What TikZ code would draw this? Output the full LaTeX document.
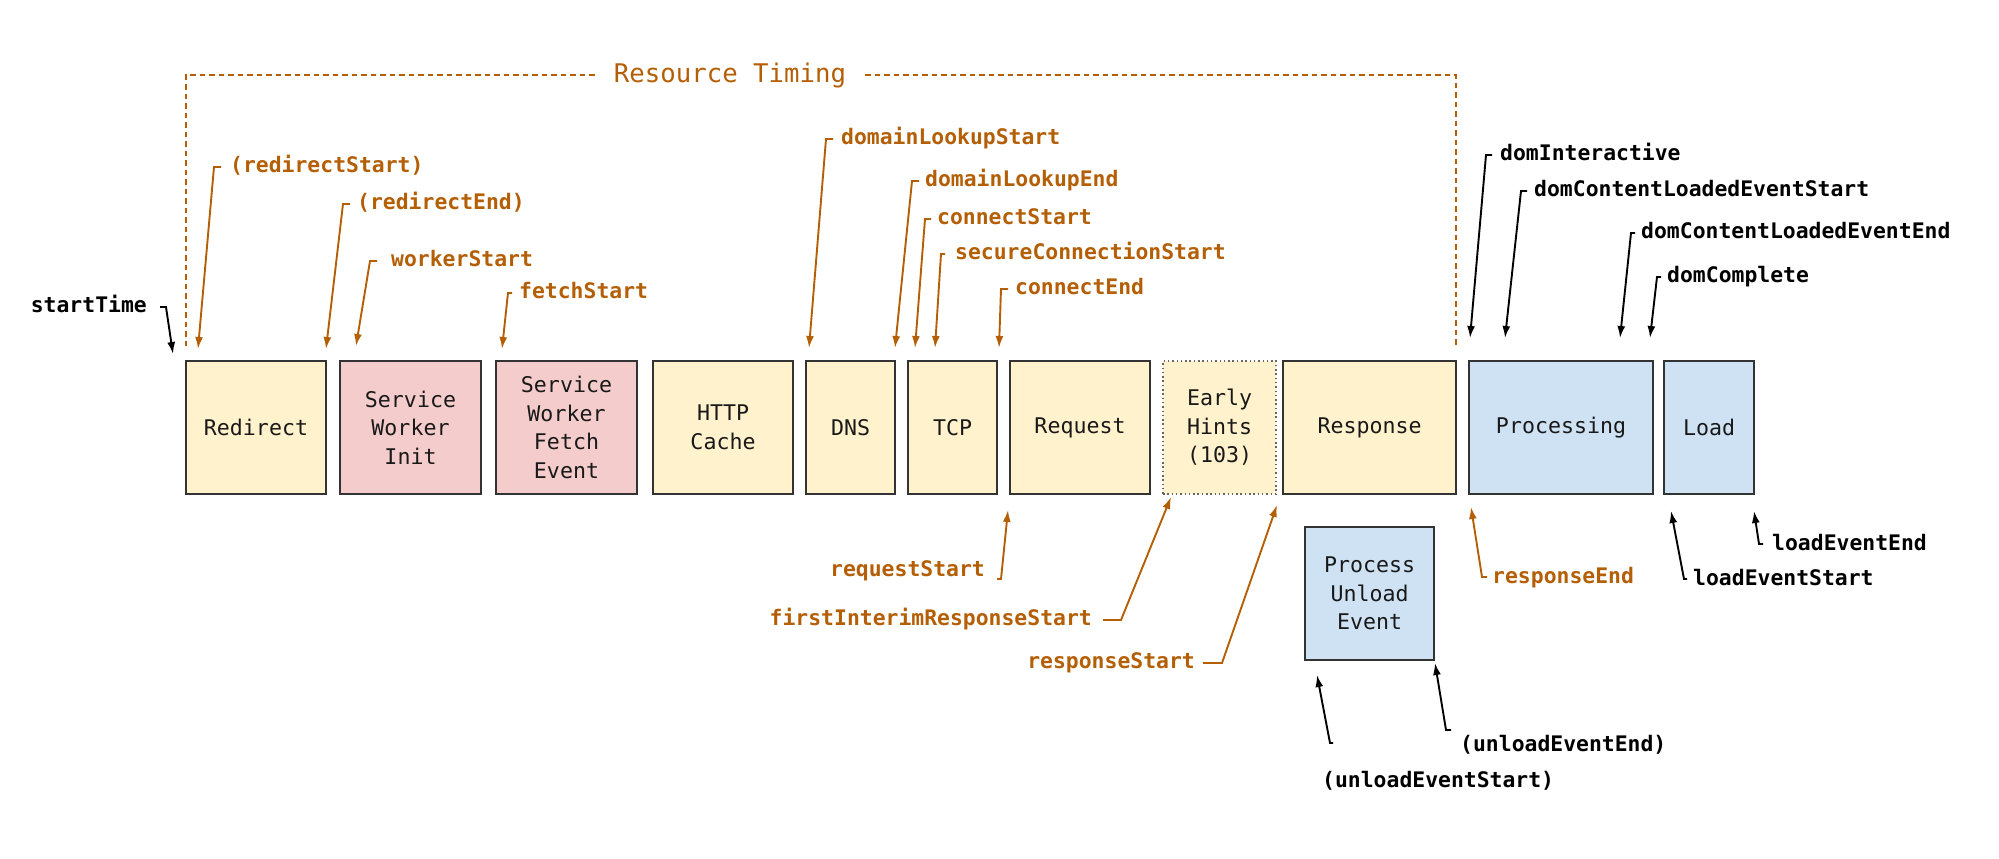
\documentclass[tikz,border=0pt]{standalone}
\usepackage{fontspec}
\setmonofont{DejaVu Sans Mono}
\usepackage{tikz}
\definecolor{orange800}{HTML}{B45F06}
\definecolor{yellow100}{HTML}{FFF2CC}
\definecolor{red100}{HTML}{F4CCCC}
\definecolor{blue100}{HTML}{CFE2F3}
\definecolor{gray800}{HTML}{333333}
\definecolor{gray600}{HTML}{666666}
\usetikzlibrary{arrows.meta}
\tikzstyle{phase}=[rectangle, draw=gray800, line width=2pt, minimum height=133pt, inner sep=0pt, align=center, text=black!90, font=\ttfamily\fontsize{21.6}{28.5}\selectfont]
\tikzstyle{stamp}=[inner sep=0pt, text height=15pt, text depth=5pt, font=\ttfamily\bfseries\fontsize{21.4}{26}\selectfont]
\tikzstyle{rtstamp}=[stamp, text=orange800]
\tikzstyle{navstamp}=[stamp, text=black]
\tikzstyle{rtpointer}=[draw=orange800, line width=1.9pt, -{Latex[length=12pt,width=8pt]}]
\tikzstyle{navpointer}=[draw=black, line width=1.9pt, -{Latex[length=12pt,width=8pt]}]

\begin{document}
\begin{tikzpicture}[x=1pt, y=-1pt]
			\useasboundingbox (0,0) rectangle (1999,859);
			\node[phase, fill=yellow100, minimum width=140pt] (redirect) at (256,427.5) {Redirect};
			\node[phase, fill=red100, minimum width=141pt] (swinit) at (410.5,427.5) {Service\\Worker\\Init};
			\node[phase, fill=red100, minimum width=141pt] (swfetch) at (566.5,427.5) {Service\\Worker\\Fetch\\Event};
			\node[phase, fill=yellow100, minimum width=140pt] (httpcache) at (723,427.5) {HTTP\\Cache};
			\node[phase, fill=yellow100, minimum width=89pt] (dns) at (850.5,427.5) {DNS};
			\node[phase, fill=yellow100, minimum width=89pt] (tcp) at (952.5,427.5) {TCP};
			\node[phase, fill=yellow100, minimum width=140pt] (request) at (1080,427.5) {Request};
			\node[phase, fill=yellow100, minimum width=113pt, draw=gray600, line width=1.5pt, dash pattern=on 1.5pt off 2.8pt] (earlyhints) at (1219.5,427.5) {Early\\Hints\\(103)};
			\node[phase, fill=yellow100, minimum width=173pt] (response) at (1369.5,427.5) {Response};
			\node[phase, fill=blue100, minimum width=184pt] (processing) at (1561,427.5) {Processing};
			\node[phase, fill=blue100, minimum width=90pt] (load) at (1709,427.5) {Load};
			\node[phase, fill=blue100, minimum width=129pt] (unload) at (1369.5,593.5) {Process\\Unload\\Event};

			\node[font=\ttfamily\fontsize{25.7}{30}\selectfont, text=orange800, inner xsep=19pt, inner ysep=0pt] (rt) at (730,75) {Resource Timing};
			\coordinate (rt-left) at (186,348);
			\coordinate (rt-right) at (1456,348);
			\path[draw=orange800, line width=1.8pt, dash pattern=on 5.5pt off 4pt] (rt.west) -| (rt-left) (rt.east) -| (rt-right);

			\node[navstamp, anchor=east] (st) at (147,307) {startTime};
			\node[rtstamp, anchor=west] (rs) at (230,167) {(redirectStart)};
			\node[rtstamp, anchor=west] (re) at (357,204) {(redirectEnd)};
			\node[rtstamp, anchor=west] (ws) at (391,261) {workerStart};
			\node[rtstamp, anchor=west] (fs) at (519,293) {fetchStart};
			\node[rtstamp, anchor=west] (dls) at (841,139) {domainLookupStart};
			\node[rtstamp, anchor=west] (dle) at (925,181) {domainLookupEnd};
			\node[rtstamp, anchor=west] (cs) at (937,219) {connectStart};
			\node[rtstamp, anchor=west] (scs) at (955,254) {secureConnectionStart};
			\node[rtstamp, anchor=west] (ce) at (1015,289) {connectEnd};
			\node[navstamp, anchor=west] (di) at (1500,155) {domInteractive};
			\node[navstamp, anchor=west] (dcls) at (1534,191) {domContentLoadedEventStart};
			\node[navstamp, anchor=west] (dcle) at (1641,233) {domContentLoadedEventEnd};
			\node[navstamp, anchor=west] (dc) at (1667,277) {domComplete};

			\node[rtstamp, anchor=east] (rqs) at (985,571) {requestStart};
			\node[rtstamp, anchor=east] (fir) at (1092,620) {firstInterimResponseStart};
			\node[rtstamp, anchor=east] (rsp) at (1195,663) {responseStart};
			\node[rtstamp, anchor=west] (rse) at (1492,578) {responseEnd};
			\node[navstamp, anchor=west] (les) at (1693,580) {loadEventStart};
			\node[navstamp, anchor=west] (lee) at (1772,545) {loadEventEnd};
			\node[navstamp, anchor=west] (uee) at (1460,746) {(unloadEventEnd)};
			\node[navstamp, anchor=west] (ues) at (1322,782) {(unloadEventStart)};

			\coordinate (st-tip) at (173,354);
			\coordinate (rs-tip) at (198,349);
			\coordinate (re-tip) at (326,349);
			\coordinate (ws-tip) at (356,346);
			\coordinate (fs-tip) at (502,349);
			\coordinate (dls-tip) at (809,348);
			\coordinate (dle-tip) at (895,348);
			\coordinate (cs-tip) at (915,348);
			\coordinate (scs-tip) at (935,348);
			\coordinate (ce-tip) at (999,348);
			\coordinate (di-tip) at (1470,338);
			\coordinate (dcls-tip) at (1505,338);
			\coordinate (dcle-tip) at (1620,338);
			\coordinate (dc-tip) at (1650,338);
			\coordinate (rqs-tip) at (1008,510);
			\coordinate (fir-tip) at (1171,497);
			\coordinate (rsp-tip) at (1277,505);
			\coordinate (rse-tip) at (1471,507);
			\coordinate (les-tip) at (1671,511);
			\coordinate (lee-tip) at (1754,511);
			\coordinate (uee-tip) at (1435,663);
			\coordinate (ues-tip) at (1317,675);

			\draw[navpointer] ([xshift=13pt]st.east) -- ([xshift=19pt]st.east) -- (st-tip);
			\draw[rtpointer] ([xshift=-9pt]rs.west) -- ([xshift=-16pt]rs.west) -- (rs-tip);
			\draw[rtpointer] ([xshift=-7pt]re.west) -- ([xshift=-14pt]re.west) -- (re-tip);
			\draw[rtpointer] ([xshift=-14pt]ws.west) -- ([xshift=-21pt]ws.west) -- (ws-tip);
			\draw[rtpointer] ([xshift=-7pt]fs.west) -- ([xshift=-11pt]fs.west) -- (fs-tip);
			\draw[rtpointer] ([xshift=-8pt]dls.west) -- ([xshift=-15pt]dls.west) -- (dls-tip);
			\draw[rtpointer] ([xshift=-6pt]dle.west) -- ([xshift=-13pt]dle.west) -- (dle-tip);
			\draw[rtpointer] ([xshift=-6pt]cs.west) -- ([xshift=-12pt]cs.west) -- (cs-tip);
			\draw[rtpointer] ([xshift=-10pt]scs.west) -- ([xshift=-14pt]scs.west) -- (scs-tip);
			\draw[rtpointer] ([xshift=-7pt]ce.west) -- ([xshift=-14pt]ce.west) -- (ce-tip);
			\draw[navpointer] ([xshift=-8pt]di.west) -- ([xshift=-14pt]di.west) -- (di-tip);
			\draw[navpointer] ([xshift=-7pt]dcls.west) -- ([xshift=-13pt]dcls.west) -- (dcls-tip);
			\draw[navpointer] ([xshift=-6pt]dcle.west) -- ([xshift=-10pt]dcle.west) -- (dcle-tip);
			\draw[navpointer] ([xshift=-6pt]dc.west) -- ([xshift=-10pt]dc.west) -- (dc-tip);

			\draw[rtpointer] ([shift={(12,8)}]rqs.east) -- ([shift={(16,8)}]rqs.east) -- (rqs-tip);
			\draw[rtpointer] ([xshift=11pt]fir.east) -- ([xshift=29pt]fir.east) -- (fir-tip);
			\draw[rtpointer] ([xshift=8pt]rsp.east) -- ([xshift=27pt]rsp.east) -- (rsp-tip);
			\draw[rtpointer] ([shift={(-5,-1)}]rse.west) -- ([shift={(-10,-1)}]rse.west) -- (rse-tip);
			\draw[navpointer] ([shift={(-6,-1)}]les.west) -- ([shift={(-9,-1)}]les.west) -- (les-tip);
			\draw[navpointer] ([shift={(-9,-1)}]lee.west) -- ([shift={(-13,-1)}]lee.west) -- (lee-tip);
			\draw[navpointer] ([shift={(-9,-16)}]uee.west) -- ([shift={(-14,-16)}]uee.west) -- (uee-tip);
			\draw[navpointer] ([shift={(11,-39)}]ues.west) -- ([shift={(8,-39)}]ues.west) -- (ues-tip);
		\end{tikzpicture}
\end{document}
